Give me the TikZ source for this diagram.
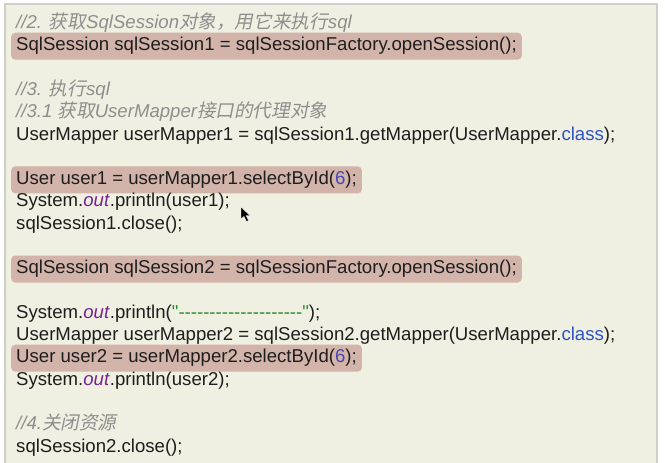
\documentclass[tikz,border=0pt]{standalone}
\usepackage{fontspec}
\setmainfont{Liberation Sans}[Ligatures=TeXOff]
\newfontfamily\cjk[FakeSlant=0.2]{Noto Sans CJK SC}
\usetikzlibrary{positioning}

\definecolor{panel}{HTML}{EFF0E2}
\definecolor{panelline}{HTML}{CFCFC8}
\definecolor{hlfill}{HTML}{D2B4AA}
\definecolor{codetext}{HTML}{1E1E1E}
\definecolor{comment}{HTML}{8E8E8E}
\definecolor{kwblue}{HTML}{2F52BE}
\definecolor{numblue}{HTML}{4848B0}
\definecolor{field}{HTML}{7A2294}
\definecolor{strgreen}{HTML}{2E8B2E}

\newcommand{\out}{\textcolor{field}{\textit{out}}}
\newcommand{\hy}{-\kern0pt}

\begin{document}
\begin{tikzpicture}[x=1pt,y=-1pt,
    code/.style={anchor=base west, inner xsep=5pt, inner ysep=4.75pt,
      text height=13.5pt, text depth=4pt, text=codetext,
      font=\fontsize{18.6}{22}\selectfont},
    hl/.style={code, fill=hlfill, rounded corners=4pt},
    note/.style={code, text=comment, font=\fontsize{18.6}{22}\selectfont\itshape}]
  \useasboundingbox (0,0) rectangle (665,463);
  \fill[white] (0,0) rectangle (665,463);
  \fill[panel] (5,4) rectangle (657,470);
  \draw[panelline, line width=1.5pt] (5,470) -- (5,4) -- (657,4) -- (657,470);

  % 2. session
  \node[note] (c2) at (11,28.7) {//2. {\cjk 获取}SqlSession{\cjk 对象，用它来执行}sql};
  \node[hl] (sess1) at (11,{28.7+1*22.28}) {SqlSession sqlSession1 = sqlSessionFactory.openSession();};

  % 3. query
  \node[note] (c3) at (11,{28.7+3*22.28}) {//3. {\cjk 执行}sql};
  \node[note] (c31) at (11,{28.7+4*22.28}) {//3.1 {\cjk 获取}UserMapper{\cjk 接口的代理对象}};
  \node[code] (mapper1) at (11,{28.7+5*22.28}) {UserMapper userMapper1 = sqlSession1.getMapper(UserMapper.\textcolor{kwblue}{class});};

  \node[hl] (user1) at (11,{28.7+7*22.28}) {User user1 = userMapper1.selectById(\textcolor{numblue}{6});};
  \node[code] (print1) at (11,{28.7+8*22.28}) {System.\out.println(user1);};
  \node[code] (close1) at (11,{28.7+9*22.28}) {sqlSession1.close();};

  \node[hl] (sess2) at (11,{28.7+11*22.28}) {SqlSession sqlSession2 = sqlSessionFactory.openSession();};

  \node[code] (print2) at (11,{28.7+13*22.28}) {System.\out.println(\textcolor{strgreen}{"\hy\hy\hy\hy\hy\hy\hy\hy\hy\hy\hy\hy\hy\hy\hy\hy\hy\hy\hy\hy"});};
  \node[code] (mapper2) at (11,{28.7+14*22.28}) {UserMapper userMapper2 = sqlSession2.getMapper(UserMapper.\textcolor{kwblue}{class});};
  \node[hl] (user2) at (11,{28.7+15*22.28}) {User user2 = userMapper2.selectById(\textcolor{numblue}{6});};
  \node[code] (print3) at (11,{28.7+16*22.28}) {System.\out.println(user2);};

  % 4. close
  \node[note] (c4) at (11,{28.7+18*22.28}) {//4.{\cjk 关闭资源}};
  \node[code] (close2) at (11,{28.7+19*22.28}) {sqlSession2.close();};

  % mouse pointer
  \filldraw[fill=black, draw=white, line width=0.4pt]
    (241,207) -- (241,219) -- (244,216.5) -- (246.5,221.5) -- (248.5,220.5)
    -- (246,215.5) -- (250,215.5) -- cycle;
\end{tikzpicture}
\end{document}
